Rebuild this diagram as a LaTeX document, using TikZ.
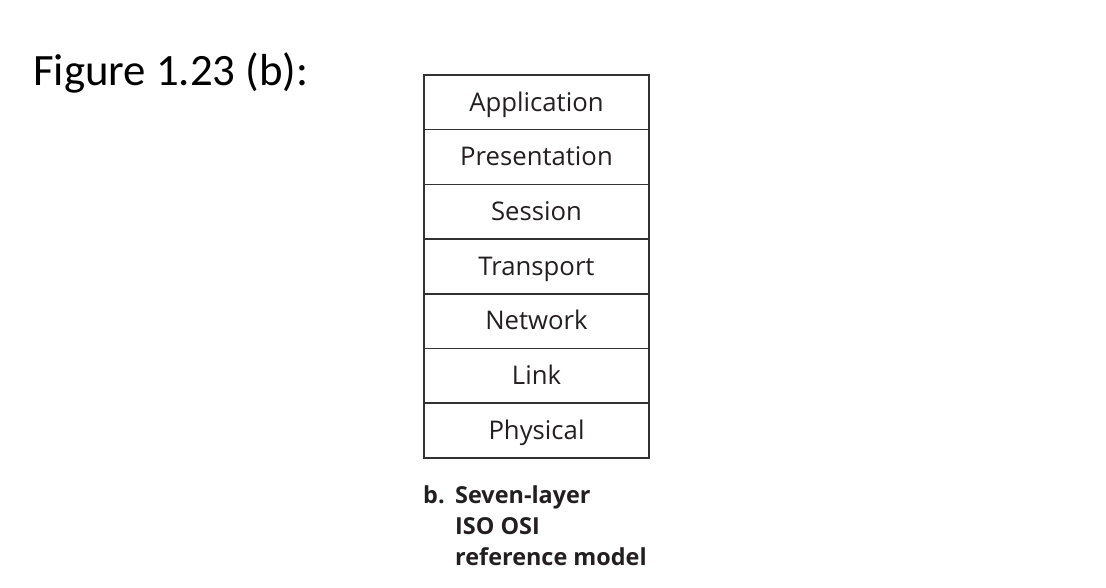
\documentclass[tikz,border=0pt]{standalone}
\usepackage{fontspec}
\setmainfont{Open Sans}
\newfontfamily\titlefont{Carlito}
\usetikzlibrary{calc}

\begin{document}
\begin{tikzpicture}[x=1bp,y=-1bp]
\definecolor{osi_line}{RGB}{50,50,50}   %#323232
\definecolor{osi_text}{RGB}{35,31,32}   %#231F20

\tikzset{layer/.style={draw=osi_line,line width=1.6bp,minimum width=225bp,minimum height=54.7bp,
  inner sep=0pt,text height=17.5bp,text depth=0pt,text=osi_text,font=\fontsize{25.8}{30}\selectfont}}

\useasboundingbox (0,0) rectangle (1106,588);

\def\lx{536.5}
\def\ly{75}
\def\lh{54.7}

\coordinate (T)  at (33,86);
\coordinate (C)  at (423,503);
\coordinate (CX) at (455,565);

\node [anchor=base west,inner sep=0pt,font=\titlefont\fontsize{45}{54}\selectfont] (TITLE) at (T) {Figure 1.23 (b):};

\node [layer] (APP) at (\lx,{\ly+0.5*\lh}) {Application};
\node [layer] (PRE) at (\lx,{\ly+1.5*\lh}) {Presentation};
\node [layer] (SES) at (\lx,{\ly+2.5*\lh}) {Session};
\node [layer] (TRA) at (\lx,{\ly+3.5*\lh}) {Transport};
\node [layer] (NET) at (\lx,{\ly+4.5*\lh}) {Network};
\node [layer] (LNK) at (\lx,{\ly+5.5*\lh}) {Link};
\node [layer] (PHY) at (\lx,{\ly+6.5*\lh}) {Physical};

\node [anchor=base west,inner sep=0pt,text=osi_text,font=\bfseries\fontsize{23.5}{31}\selectfont] (CB) at (C) {b.};
\node [anchor=base west,inner sep=0pt,align=left,text=osi_text,font=\bfseries\fontsize{23.5}{31}\selectfont] (CAP) at (CX)
  {Seven-layer\\ISO OSI\\reference model};

\end{tikzpicture}
\end{document}
